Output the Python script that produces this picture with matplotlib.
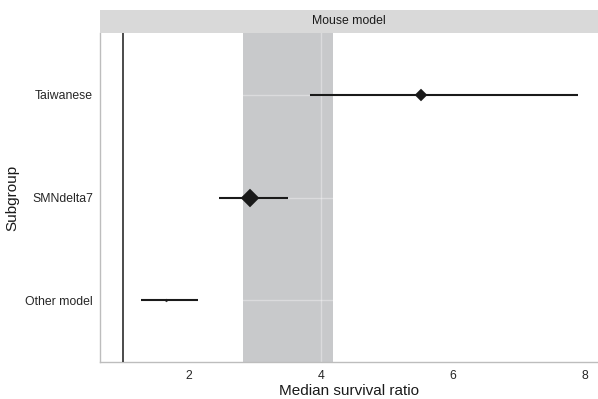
import matplotlib
matplotlib.use("Agg")
import matplotlib.pyplot as plt
import numpy as np

# ---- data ----
subgroups = ["Taiwanese", "SMNdelta7", "Other model"]
estimate = [5.51, 2.93, 1.65]
ci_low = [3.84, 2.46, 1.27]
ci_high = [7.90, 3.50, 2.13]
weights = [31, 72, 2]          # relative weight (marker area)
pooled_low = 2.82
pooled_high = 4.18
null_value = 1.0
x_ticks = [2, 4, 6, 8]
facet_label = "Mouse model"
x_label = "Median survival ratio"
y_label = "Subgroup"

plt.rcParams['font.family'] = ['Liberation Sans', 'DejaVu Sans']

W, H = 598, 399
fig = plt.figure(figsize=(W / 100, H / 100), dpi=100)

ax_l, ax_r, ax_t, ax_b = 100, 598, 33, 362
ax = fig.add_axes([ax_l / W, (H - ax_b) / H, (ax_r - ax_l) / W, (ax_b - ax_t) / H])
strip = fig.add_axes([ax_l / W, (H - ax_t) / H, (ax_r - ax_l) / W, 23 / H])

# strip
strip.set_facecolor('#D9D9D9')
for s in strip.spines.values():
    s.set_visible(False)
strip.set_xticks([])
strip.set_yticks([])
strip.text(0.5, 0.5, facet_label, ha='center', va='center', fontsize=8.8,
           color='#1A1A1A', transform=strip.transAxes)

ypos = np.arange(len(subgroups))[::-1] + 1  # Taiwanese on top

# pooled band
ax.axvspan(pooled_low, pooled_high, color='#C8C9CB', lw=0, zorder=1)
# gridlines (visible only over band)
for xv in x_ticks:
    ax.axvline(xv, color='white', lw=1.0, alpha=0.35, zorder=2)
for yv in ypos:
    ax.axhline(yv, color='white', lw=1.0, alpha=0.35, zorder=2)

# null line
ax.axvline(null_value, color='#1A1A1A', lw=1.1, zorder=3)

for y, est, lo, hi, w in zip(ypos, estimate, ci_low, ci_high, weights):
    ax.plot([lo, hi], [y, y], color='#1A1A1A', lw=1.5, solid_capstyle='butt', zorder=4)
    ax.plot([est], [y], marker='D', ms=np.sqrt(w) * 1.07, color='#1A1A1A',
            mec='#1A1A1A', mew=0.3, zorder=5)

ax.set_xlim(0.652, 8.2)
ax.set_ylim(0.4, 3.6)
ax.set_xticks(x_ticks)
ax.set_xticklabels([str(t) for t in x_ticks])
ax.set_yticks(ypos)
ax.set_yticklabels(subgroups)
ax.tick_params(axis='both', length=0, labelsize=8.8, labelcolor='#262626')
ax.tick_params(axis='x', pad=6)
ax.tick_params(axis='y', pad=5)

for side in ['top', 'right']:
    ax.spines[side].set_visible(False)
for side in ['left', 'bottom']:
    ax.spines[side].set_color('#BDBDBD')
    ax.spines[side].set_linewidth(1.0)

ax.set_xlabel(x_label, fontsize=11, color='#1A1A1A', labelpad=1)
ax.set_ylabel(y_label, fontsize=11, color='#1A1A1A', labelpad=4)

fig.savefig('out.png', dpi=100)
